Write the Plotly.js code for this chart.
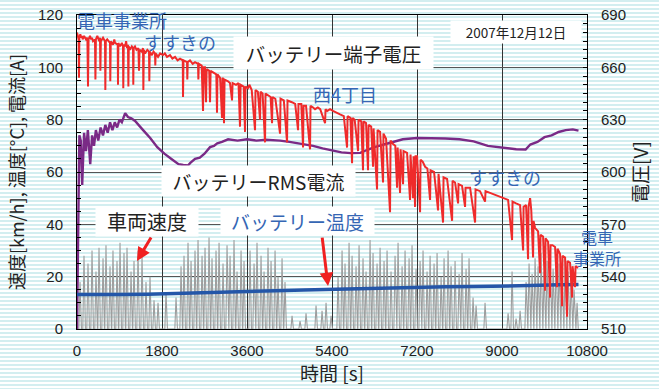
<!DOCTYPE html>
<html>
<head>
<meta charset="utf-8">
<script src="https://cdn.plot.ly/plotly-3.0.1.min.js"></script>
<style>
html,body{margin:0;padding:0;}
body{width:659px;height:389px;overflow:hidden;
background:repeating-linear-gradient(to bottom,#d3eef0 0px,#d3eef0 2px,#ffffff 2px,#ffffff 4px);}
#chart{width:659px;height:389px;}
</style>
</head>
<body>
<div id="chart"></div>
<script>
// ---- Battery terminal voltage [V] (right axis) ----
const voltTime = [0,15,21,35,42,50,70,90,106,120,150,191,220,233,245,275,300,318,340,381,390,400,430,470,487,495,505,551,593,600,610,640,699,705,715,762,790,805,862,868,876,911,950,974,980,990,1017,1040,1060,1080,1088,1096,1122,1160,1186,1192,1200,1228,1260,1300,1313,1325,1370,1398,1405,1415,1440,1490,1525,1532,1540,1588,1620,1652,1658,1666,1716,1760,1821,1860,1906,1970,2020,2076,2130,2182,2240,2245,2255,2330,2336,2345,2393,2450,2499,2563,2570,2580,2640,2669,2680,2710,2732,2745,2800,2817,2830,2902,2950,2965,2975,3030,3071,3080,3105,3113,3125,3198,3240,3283,3295,3368,3420,3452,3465,3530,3558,3570,3620,3650,3700,3770,3780,3830,3876,3886,3930,3982,3992,4045,4100,4130,4140,4200,4300,4310,4380,4448,4458,4550,4620,4681,4690,4750,4787,4797,4850,4935,4945,5000,5041,5100,5150,5253,5263,5300,5359,5420,5480,5570,5650,5719,5730,5790,5825,5835,5880,5952,5962,6020,6057,6067,6121,6163,6175,6230,6269,6280,6354,6365,6418,6481,6490,6545,6629,6640,6693,6740,6778,6790,6841,6852,6905,6915,6989,7053,7063,7116,7128,7159,7170,7201,7265,7275,7320,7371,7420,7477,7487,7561,7646,7656,7752,7762,7837,7943,7953,8006,8070,8080,8154,8218,8228,8324,8430,8440,8535,8641,8651,8747,8853,8959,9065,9129,9213,9223,9298,9383,9447,9457,9510,9552,9562,9595,9620,9658,9668,9700,9764,9806,9816,9870,9912,9922,9976,10018,10028,10070,10124,10166,10176,10230,10272,10282,10336,10378,10388,10441,10484,10494,10547,10557,10611];
const voltValue = [680,678,679,676,654,677,679,677,678,676,678,676,677,649,676,678,676,677,675,676,653,676,678,675,677,658,675,677,675,647,675,676,674,652,675,673,676,674,673,650,674,672,674,672,648,673,672,675,671,673,649,672,670,672,671,650,671,672,670,671,658,670,669,671,647,670,668,670,669,652,669,667,669,668,661,668,666,668,667,668,666,667,665,666,664,665,664,643,664,663,653,663,664,662,663,662,653,662,661,635,660,660,640,659,658,640,658,657,656,634,656,654,631,654,653,628,653,652,651,641,651,650,651,626,650,649,623,649,648,650,647,624,647,646,630,646,645,617,645,644,643,628,643,642,622,642,641,617,641,640,639,624,639,639,614,638,638,613,638,637,636,637,636,628,636,635,636,635,634,633,632,614,632,631,605,631,630,612,630,629,601,629,628,601,627,626,603,625,590,624,623,594,622,619,577,618,616,615,591,614,588,613,593,612,611,584,610,585,609,580,609,609,577,607,606,603,602,584,601,600,578,599,571,597,596,572,595,594,582,593,592,580,591,591,571,590,589,583,589,588,587,586,585,584,561,583,582,581,555,580,581,550,580,585,578,551,572,568,566,542,564,563,532,562,560,528,558,558,557,534,556,553,523,552,551,517,549,548,528,546,534,546,545];

// ---- Battery RMS current [A] (left axis) ----
const currentTime = [0,25,50,80,110,150,190,230,280,320,360,400,450,500,550,600,650,700,750,800,850,900,950,1020,1080,1150,1230,1400,1550,1700,1850,2000,2150,2250,2350,2400,2500,2600,2700,2817,2900,2970,3070,3200,3400,3600,3800,4000,4300,4500,4800,5000,5200,5400,5600,5800,6000,6150,6300,6500,6700,6900,7200,7500,7800,8100,8400,8700,8900,9100,9300,9500,9600,9750,9900,10050,10200,10350,10500,10620];
const currentValue = [0,35,74,72,55,75,68,76,63,74,70,76,72,77,74,78,75,79,76,79,77,80,79,82.5,81,80.5,79.5,76,73,69.5,67,65,63,62.7,62.5,63.5,65,65.5,67,69.5,70,71,71.5,72.5,72,72.5,72,72.3,72,71.5,70.5,70,69,68.2,67.5,67.2,67.3,68.5,69.5,70.5,71.5,72.5,73,73,72.8,72.5,71.7,70,69.5,69,68.7,68.6,70.5,71.5,73.3,74,75.3,76,76.3,75.8];

// ---- Battery temperature [°C] (left axis) ----
const tempTime = [0,300,900,1500,2000,2500,3000,3600,4200,4800,5400,6000,6600,7200,7800,8400,9000,9600,10200,10620];
const tempValue = [13.2,13.3,13.2,13.3,13.6,13.8,14.0,14.3,14.6,14.9,15.2,15.4,15.7,15.9,16.1,16.2,16.3,16.6,16.9,17.0];

// ---- Vehicle speed [km/h] (left axis): one record per run between stops ----
const tripStart = [39,123,208,293,377,441,526,589,674,737,822,886,970,1034,1119,1182,1267,1352,1436,1521,1606,1691,1860,2072,2178,2241,2326,2390,2474,2538,2623,2686,2771,2834,2919,2983,3067,3152,3216,3300,3364,3449,3512,3639,3724,3787,3872,3936,4020,4084,4169,4232,4317,4380,4529,4698,4825,5037,5164,5249,5355,5503,5588,5651,5736,5800,5884,5948,6032,6096,6181,6244,6329,6393,6477,6541,6625,6710,6774,6859,6922,7007,7070,7155,7240,7303,7388,7452,7536,7600,7685,7748,7833,7896,7981,8066,8129,8214,8277,8362,8426,8616,9104,9188,9273,9358,9485,9548,9612,9675,9739,9802,9866,9930,9993,10057,10120,10184,10247,10311,10374,10438,10501,10565];
const tripTop = [64,148,233,318,402,466,551,614,699,762,847,911,995,1059,1144,1207,1292,1377,1461,1546,1631,1716,1885,2097,2203,2266,2351,2415,2499,2563,2648,2711,2796,2859,2944,3008,3092,3177,3241,3325,3389,3474,3537,3664,3749,3812,3897,3961,4045,4109,4194,4257,4342,4405,4554,4723,4850,5062,5189,5274,5380,5528,5613,5676,5761,5825,5909,5973,6057,6121,6206,6269,6354,6418,6502,6566,6650,6735,6799,6884,6947,7032,7095,7180,7265,7328,7413,7477,7561,7625,7710,7773,7858,7921,8006,8091,8154,8239,8302,8387,8451,8641,9129,9213,9298,9383,9510,9573,9637,9700,9764,9827,9891,9955,10018,10082,10145,10209,10272,10336,10399,10463,10526,10590];
const tripSpeed = [18,28,25,30,22,31,27,32,24,30,26,33,29,31,22,26,30,28,18,20,11,10,14,12,24,28,33,26,30,34,28,31,35,27,30,33,25,32,28,34,22,30,26,30,25,33,28,22,31,26,30,20,27,18,5,3,6,9,7,10,5,20,30,25,33,28,24,32,27,22,34,29,25,31,26,30,22,28,33,24,30,27,32,23,26,30,22,28,25,29,20,27,30,24,26,21,29,23,27,12,9,10,6,22,4,7,18,25,21,27,24,29,22,26,30,23,28,25,21,27,22,19,15,10];
const tripEnd = [94,178,263,348,432,496,581,644,729,792,877,941,1025,1089,1174,1237,1322,1407,1491,1576,1661,1746,1915,2127,2233,2296,2381,2445,2529,2593,2678,2741,2826,2889,2974,3038,3122,3207,3271,3355,3419,3504,3567,3694,3779,3842,3927,3991,4075,4139,4224,4287,4372,4435,4584,4753,4880,5092,5219,5304,5410,5558,5643,5706,5791,5855,5939,6003,6087,6151,6236,6299,6384,6448,6532,6596,6680,6765,6829,6914,6977,7062,7125,7210,7295,7358,7443,7507,7591,7655,7740,7803,7888,7951,8036,8121,8184,8269,8332,8417,8481,8671,9159,9243,9328,9413,9540,9603,9667,9730,9794,9857,9921,9985,10048,10112,10175,10239,10302,10366,10429,10493,10556,10615];

// ---- Axis ticks ----
const xTicks = [0,1800,3600,5400,7200,9000,10800];
const yTicks = [0,20,40,60,80,100,120];
const y2Ticks = [510,540,570,600,630,660,690];

const speedX = [], speedY = [];
for (let i = 0; i < tripStart.length; i++) {
  speedX.push(tripStart[i], tripTop[i], tripEnd[i]);
  speedY.push(0, tripSpeed[i], 0);
}

const JP = '"Noto Sans CJK JP", sans-serif';
const NUM = '"Liberation Sans", Arial, "Noto Sans CJK JP", sans-serif';
const BLUE = '#3566b4';

const traces = [
  {x: speedX, y: speedY, type: 'scatter', mode: 'lines', line: {color: '#9e9e9e', width: 1.1}, hoverinfo: 'skip'},
  {x: currentTime, y: currentValue, type: 'scatter', mode: 'lines', line: {color: '#7a2a86', width: 2.4}},
  {x: voltTime, y: voltValue, type: 'scatter', mode: 'lines', yaxis: 'y2', line: {color: '#ef2b2b', width: 2}},
  {x: tempTime, y: tempValue, type: 'scatter', mode: 'lines', line: {color: '#2456a8', width: 3.5}}
];

function lbl(text, x, y, size, color, box) {
  const a = {text: text, x: x, y: y, xref: 'x', yref: 'y', showarrow: false,
    font: {family: JP, size: size, color: color}, xanchor: 'center', yanchor: 'middle'};
  if (box) { a.bgcolor = '#ffffff'; a.width = box[0]; a.height = box[1]; }
  return a;
}

const layout = {
  width: 659, height: 389,
  margin: {l: 77, r: 72, t: 15, b: 60},
  paper_bgcolor: 'rgba(0,0,0,0)', plot_bgcolor: 'rgba(0,0,0,0)',
  showlegend: false,
  font: {family: NUM, size: 15, color: '#222'},
  xaxis: {
    range: [0, 10800], tickvals: xTicks, ticktext: xTicks.map(String),
    showgrid: true, gridcolor: '#333', gridwidth: 1, zeroline: false,
    showline: true, linecolor: '#000', linewidth: 1, mirror: true,
    ticks: '', ticklabelstandoff: 8,
    tickfont: {family: NUM, size: 15, color: '#222'},
    title: {text: '時間 [s]', font: {family: JP, size: 19, color: '#222'}, standoff: 6}
  },
  yaxis: {
    range: [0, 120], tickvals: yTicks, ticktext: yTicks.map(String),
    showgrid: true, gridcolor: '#555', gridwidth: 1, zeroline: false,
    showline: true, linecolor: '#000', linewidth: 1,
    ticks: 'inside', ticklen: 4, tickcolor: '#000', ticklabelstandoff: 10,
    minor: {dtick: 5, ticks: 'inside', ticklen: 4, tickcolor: '#000', showgrid: false},
    tickfont: {family: NUM, size: 15, color: '#222'},
    title: {text: '速度[km/h], 温度[°C], 電流[A]', font: {family: JP, size: 18, color: '#222'}, standoff: 8}
  },
  yaxis2: {
    range: [510, 690], tickvals: y2Ticks, ticktext: y2Ticks.map(String),
    overlaying: 'y', side: 'right', showgrid: false, zeroline: false,
    showline: true, linecolor: '#000', linewidth: 1,
    ticks: 'inside', ticklen: 4, tickcolor: '#000', ticklabelstandoff: 10,
    minor: {dtick: 5, ticks: 'inside', ticklen: 4, tickcolor: '#000', showgrid: false},
    tickfont: {family: NUM, size: 15, color: '#222'},
    title: {text: '電圧[V]', font: {family: JP, size: 19, color: '#222'}, standoff: 6}
  },
  annotations: [
    lbl('電車事業所', 953, 118.1, 18, BLUE),
    lbl('すすきの', 2182, 109.7, 18, BLUE),
    lbl('バッテリー端子電圧', 5433, 105.5, 19.5, '#222', [197, 30]),
    lbl('西4丁目', 5676, 89.8, 18, BLUE),
    lbl('2007年12月12日', 9298, 113.5, 13.5, '#222', [128, 20]),
    lbl('バッテリーRMS電流', 3844, 56.6, 19, '#222', [191, 28]),
    lbl('車両速度', 1483, 41.1, 20, '#222', [100, 27]),
    lbl('バッテリー温度', 4660, 41.3, 19, BLUE, [151, 26]),
    lbl('すすきの', 9065, 58.1, 18, BLUE),
    {text: '電車<br>事業所', xref: 'paper', yref: 'paper', x: 1.0196, y: 0.258, showarrow: false,
     font: {family: JP, size: 16, color: BLUE}, xanchor: 'center', yanchor: 'middle'},
    {text: '', x: 1270, y: 26, xref: 'x', yref: 'y', showarrow: true, ax: 15, ay: -25,
     arrowhead: 2, arrowsize: 0.9, arrowwidth: 3, arrowcolor: '#f02020'},
    {text: '', x: 5316, y: 16.4, xref: 'x', yref: 'y', showarrow: true, ax: -6, ay: -50,
     arrowhead: 2, arrowsize: 0.9, arrowwidth: 3, arrowcolor: '#f02020'}
  ]
};

Plotly.newPlot('chart', traces, layout, {displayModeBar: false, staticPlot: true});
</script>
</body>
</html>
